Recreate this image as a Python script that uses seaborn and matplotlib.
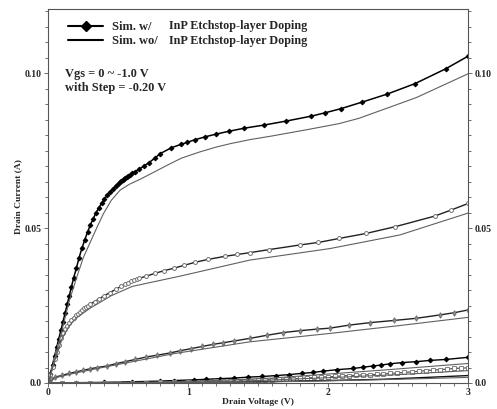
import numpy as np
import pandas as pd
import matplotlib
matplotlib.use("Agg")
import matplotlib.pyplot as plt
from matplotlib.lines import Line2D
from matplotlib.ticker import MultipleLocator, FixedLocator
import seaborn as sns

# ---- data : drain voltage (V) / drain current (A)
# Sim. w/ InP etchstop-layer doping
v_w0 = [0.0, 0.015, 0.03, 0.045, 0.06, 0.075, 0.09, 0.105, 0.12, 0.135, 0.15, 0.165, 0.18, 0.2,
        0.22, 0.24, 0.26, 0.28, 0.3, 0.32, 0.34, 0.36, 0.38, 0.4, 0.42, 0.44, 0.46, 0.48, 0.5,
        0.51, 0.52, 0.53, 0.54, 0.55, 0.56, 0.57, 0.58, 0.6, 0.62, 0.65, 0.68, 0.72, 0.76, 0.8,
        0.88, 0.95, 0.99, 1.05, 1.12, 1.2, 1.29, 1.4, 1.54, 1.7, 1.88, 1.98, 2.09, 2.24, 2.42,
        2.62, 2.84, 3.0]
i_w0 = [0.0, 0.003, 0.0058, 0.0087, 0.0115, 0.0143, 0.017, 0.0198, 0.0226, 0.0254, 0.0282, 0.031,
        0.0338, 0.037, 0.0405, 0.0435, 0.0462, 0.0487, 0.051, 0.053, 0.0549, 0.0565, 0.058,
        0.0594, 0.0606, 0.0617, 0.0627, 0.0636, 0.0644, 0.0648, 0.0652, 0.0656, 0.0659, 0.0662,
        0.0665, 0.0668, 0.0671, 0.0677, 0.0683, 0.0691, 0.07, 0.0712, 0.0726, 0.0741, 0.076,
        0.0771, 0.0777, 0.0786, 0.0795, 0.0804, 0.0813, 0.0823, 0.0833, 0.0846, 0.0862, 0.0873,
        0.0886, 0.0907, 0.0933, 0.0967, 0.1015, 0.1056]

v_w2 = [0.0, 0.015, 0.03, 0.045, 0.06, 0.075, 0.09, 0.105, 0.12, 0.135, 0.15, 0.165, 0.18, 0.195,
        0.21, 0.225, 0.24, 0.255, 0.27, 0.285, 0.3, 0.33, 0.36, 0.4, 0.44, 0.48, 0.52, 0.55, 0.57,
        0.59, 0.61, 0.63, 0.65, 0.7, 0.76, 0.83, 0.9, 0.97, 1.05, 1.14, 1.26, 1.35, 1.44, 1.58,
        1.8, 1.93, 2.08, 2.27, 2.48, 2.76, 2.88, 3.0]
i_w2 = [0.0, 0.0026, 0.0052, 0.0077, 0.0101, 0.0124, 0.0144, 0.016, 0.0173, 0.0184, 0.0194,
        0.0203, 0.0211, 0.0218, 0.0224, 0.023, 0.0236, 0.0241, 0.0246, 0.025, 0.0255, 0.0263,
        0.0271, 0.0282, 0.0292, 0.0302, 0.0312, 0.0319, 0.0324, 0.0328, 0.0332, 0.0335, 0.0338,
        0.0345, 0.0354, 0.0363, 0.0371, 0.038, 0.039, 0.0399, 0.0409, 0.0415, 0.0421, 0.0431,
        0.0446, 0.0454, 0.0467, 0.0483, 0.0505, 0.0539, 0.0559, 0.058]

v_w4 = [0.0, 0.02, 0.05, 0.1, 0.15, 0.2, 0.25, 0.3, 0.35, 0.42, 0.48, 0.55, 0.62, 0.7, 0.78, 0.87,
        0.94, 1.02, 1.1, 1.18, 1.25, 1.33, 1.44, 1.56, 1.68, 1.8, 1.92, 2.01, 2.15, 2.3, 2.47,
        2.63, 2.8, 2.9, 3.0]
i_w4 = [0.0, 0.0012, 0.0019, 0.0025, 0.0031, 0.0036, 0.0041, 0.0046, 0.005, 0.0055, 0.0062,
        0.0069, 0.0076, 0.0084, 0.009, 0.0097, 0.0104, 0.0111, 0.0118, 0.0125, 0.013, 0.0136,
        0.0144, 0.0154, 0.0163, 0.0169, 0.0174, 0.0177, 0.0187, 0.0195, 0.0202, 0.0209, 0.022,
        0.0227, 0.0236]

v_w6 = [0.0, 0.2, 0.4, 0.6, 0.8, 0.9, 1.04, 1.13, 1.23, 1.33, 1.43, 1.53, 1.63, 1.72, 1.81, 1.89,
        1.96, 2.06, 2.18, 2.25, 2.32, 2.38, 2.44, 2.53, 2.63, 2.73, 2.84, 3.0]
i_w6 = [0.0, 0.0001, 0.0002, 0.0004, 0.0006, 0.0008, 0.001, 0.0012, 0.0014, 0.0016, 0.0019,
        0.0021, 0.0024, 0.0027, 0.0031, 0.0034, 0.0038, 0.0043, 0.0047, 0.0051, 0.0055, 0.0058,
        0.0062, 0.0066, 0.0069, 0.0073, 0.0076, 0.0083]

v_w8 = [0.0, 0.1, 0.2, 0.3, 0.4, 0.5, 0.6, 0.7, 0.8, 0.9, 1.0, 1.1, 1.2, 1.25, 1.3, 1.35, 1.4,
        1.45, 1.5, 1.55, 1.6, 1.65, 1.7, 1.75, 1.8, 1.85, 1.9, 1.95, 2.0, 2.05, 2.1, 2.15, 2.2,
        2.25, 2.3, 2.35, 2.39, 2.44, 2.49, 2.54, 2.6, 2.65, 2.7, 2.75, 2.8, 2.85, 2.9, 2.95, 3.0]
i_w8 = [0.0, 0.0, 0.0, 0.0, 0.0, 0.0001, 0.0001, 0.0001, 0.0002, 0.0002, 0.0003, 0.0004, 0.0005,
        0.0005, 0.0006, 0.0007, 0.0008, 0.0008, 0.0009, 0.001, 0.0011, 0.0012, 0.0013, 0.0014,
        0.0015, 0.0016, 0.0018, 0.0019, 0.002, 0.0021, 0.0023, 0.0024, 0.0025, 0.0026, 0.0027,
        0.0028, 0.0029, 0.0031, 0.0032, 0.0034, 0.0036, 0.0038, 0.004, 0.0042, 0.0043, 0.0045,
        0.0047, 0.0048, 0.0049]

v_w10 = [0.0, 1.0, 1.5, 2.0, 2.39, 2.7, 3.0]
i_w10 = [0.0, 0.0001, 0.0004, 0.0008, 0.0012, 0.0018, 0.0024]

# Sim. wo/ InP etchstop-layer doping
v_o0 = [0.0, 0.05, 0.1, 0.15, 0.204, 0.25, 0.3, 0.35, 0.394, 0.45, 0.513, 0.58, 0.656, 0.75,
        0.87, 0.95, 1.08, 1.2, 1.3, 1.44, 1.6, 1.87, 2.08, 2.22, 2.63, 3.0]
i_o0 = [0.0, 0.0085, 0.0175, 0.0265, 0.0343, 0.0405, 0.0455, 0.0505, 0.0547, 0.059, 0.0623,
        0.0642, 0.0658, 0.068, 0.0708, 0.0726, 0.0746, 0.0762, 0.0773, 0.0786, 0.0798, 0.082,
        0.0838, 0.0855, 0.0922, 0.0999]
v_o2 = [0.0, 0.05, 0.1, 0.15, 0.2, 0.3, 0.45, 0.6, 0.94, 1.44, 2.01, 2.51, 3.0]
i_o2 = [0.0, 0.0078, 0.0145, 0.0185, 0.021, 0.0242, 0.0282, 0.0312, 0.0345, 0.0397, 0.0434,
        0.0478, 0.0549]
v_o4 = [0.0, 0.05, 0.2, 0.42, 0.9, 1.44, 2.01, 2.5, 3.0]
i_o4 = [0.0, 0.0017, 0.0033, 0.0053, 0.0095, 0.0133, 0.016, 0.0185, 0.0212]
v_o6 = [0.0, 0.8, 1.2, 1.6, 1.94, 2.4, 3.0]
i_o6 = [0.0, 0.0003, 0.0008, 0.0016, 0.0027, 0.0042, 0.0063]
v_o8 = [0.0, 1.0, 1.5, 2.0, 2.5, 3.0]
i_o8 = [0.0, 0.0002, 0.0008, 0.0017, 0.0027, 0.004]
v_o10 = [0.0, 1.0, 1.5, 2.0, 2.5, 3.0]
i_o10 = [0.0, 0.0001, 0.0003, 0.0007, 0.0012, 0.0018]

x_ticks = [0, 1, 2, 3]
y_ticks = [0.0, 0.05, 0.10]
y_tick_labels = ["0.0", "0.05", "0.10"]

sns.set_style("ticks")
plt.rcParams["font.family"] = ["Liberation Serif", "DejaVu Serif"]
plt.rcParams["font.weight"] = "bold"

fig = plt.figure(figsize=(4.97, 4.09), dpi=100)
ax = fig.add_axes([0.0972, 0.0636, 0.845, 0.9137])

# with doping : lines + markers
w_series = [
    (v_w0, i_w0, "#000000", "D", "#000000", "#000000", 2.4, 1.1),
    (v_w2, i_w2, "#222222", "o", "white", "#707070", 2.8, 1.0),
    (v_w4, i_w4, "#222222", "d", "#909090", "#707070", 2.8, 1.0),
    (v_w6, i_w6, "#000000", "D", "#000000", "#000000", 2.4, 1.0),
    (v_w8, i_w8, "#555555", "s", "white", "#808080", 2.8, 0.9),
    (v_w10, i_w10, "#111111", None, "none", "none", 0, 1.0),
]
for v, i, lc, mk, mfc, mec, ms, lw in w_series:
    sns.lineplot(x=v, y=i, ax=ax, color=lc, marker=mk, markersize=ms, markerfacecolor=mfc,
                 markeredgecolor=mec, markeredgewidth=0.7, linewidth=lw, estimator=None,
                 sort=False, errorbar=None)

# without doping : thin grey lines
for v, i in [(v_o0, i_o0), (v_o2, i_o2), (v_o4, i_o4), (v_o6, i_o6), (v_o8, i_o8), (v_o10, i_o10)]:
    sns.lineplot(x=v, y=i, ax=ax, color="#606060", linewidth=0.8, estimator=None, sort=False,
                 errorbar=None)

ax.set_xlim(0, 3)
ax.set_ylim(0, 0.1207)
ax.xaxis.set_major_locator(FixedLocator(x_ticks))
ax.xaxis.set_minor_locator(MultipleLocator(0.1))
ax.yaxis.set_major_locator(FixedLocator(y_ticks))
ax.set_yticklabels(y_tick_labels)
ax.yaxis.set_minor_locator(MultipleLocator(0.005))
ax.tick_params(which="both", direction="out", right=True, labelright=True, color="#555555",
               width=0.6, labelsize=7, pad=1.5)
ax.tick_params(axis="x", pad=0.5)
ax.tick_params(which="major", length=3)
ax.tick_params(which="minor", length=2.5)
for s in ax.spines.values():
    s.set_visible(True)
    s.set_color("#555555")
    s.set_linewidth(0.8)

ax.set_xlabel("Drain Voltage (V)", fontsize=6.8, fontweight="bold", labelpad=1)
ax.set_ylabel("Drain Current (A)", fontsize=6.8, fontweight="bold", labelpad=2)

handles = [Line2D([], [], color="black", lw=1.5, marker="D", markersize=5),
           Line2D([], [], color="black", lw=1.5)]
ax.legend(handles, ["Sim. w/", "Sim. wo/"], loc="upper left", bbox_to_anchor=(0.048, 0.968),
          frameon=False, prop={"family": "Liberation Serif", "weight": "bold", "size": 9},
          handlelength=2.8, handletextpad=0.7, labelspacing=0.15, borderpad=0, borderaxespad=0)
ax.text(0.288, 0.955, "InP Etchstop-layer Doping", transform=ax.transAxes, fontsize=8.7,
        fontweight="bold", va="center", ha="left")
ax.text(0.288, 0.916, "InP Etchstop-layer Doping", transform=ax.transAxes, fontsize=8.7,
        fontweight="bold", va="center", ha="left")

ax.text(0.04, 0.819, "Vgs = 0 ~ -1.0 V", transform=ax.transAxes, fontsize=8.9,
        fontweight="bold", va="baseline", ha="left")
ax.text(0.04, 0.782, "with Step = -0.20 V", transform=ax.transAxes, fontsize=8.9,
        fontweight="bold", va="baseline", ha="left")

fig.savefig("out.png", dpi=100)
